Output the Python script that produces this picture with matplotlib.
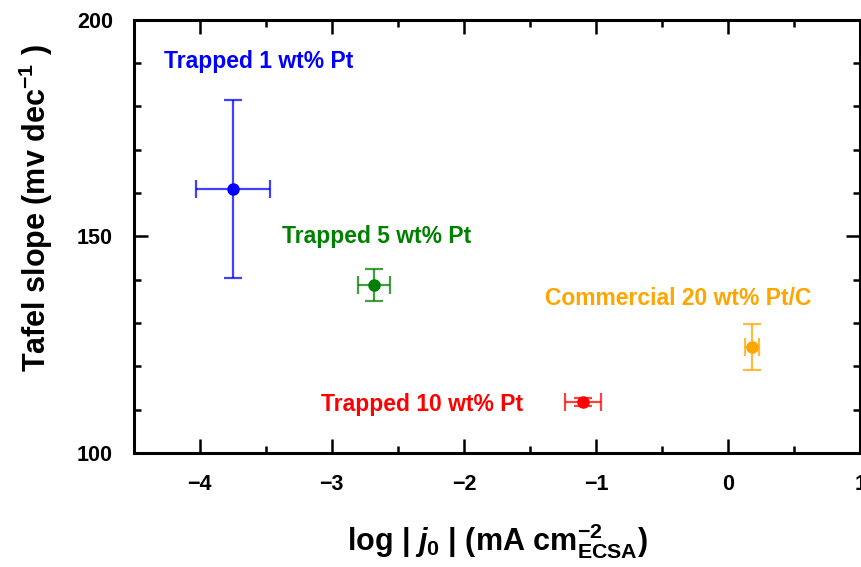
import numpy as np
import matplotlib
matplotlib.use("Agg")
from matplotlib import pyplot as plt
from matplotlib.ticker import MultipleLocator

plt.rcParams['font.family'] = 'Liberation Sans'
plt.rcParams['font.weight'] = 'bold'
plt.rcParams['mathtext.fontset'] = 'custom'
plt.rcParams['mathtext.rm'] = 'Liberation Sans:bold'
plt.rcParams['mathtext.it'] = 'Liberation Sans:bold:italic'
plt.rcParams['mathtext.bf'] = 'Liberation Sans:bold'

# data
names = ["Trapped 1 wt% Pt", "Trapped 5 wt% Pt", "Trapped 10 wt% Pt", "Commercial 20 wt% Pt/C"]
colors = ["#0000ff", "#008000", "#ff0000", "#ffa500"]
log_j0 = [-3.75, -2.68, -1.10, 0.18]
log_j0_err = [0.28, 0.12, 0.135, 0.05]
tafel = [161.0, 138.8, 111.8, 124.5]
tafel_err = [20.5, 3.7, 1.0, 5.3]
label_x = [-4.27, -3.38, -3.08, -1.39]
label_y = [190.3, 149.9, 111.3, 135.6]

fig = plt.figure(figsize=(8.62, 5.67), dpi=100)
ax = fig.add_axes([0.155, 0.201, 0.843, 0.764])

for i in range(len(names)):
    ax.errorbar(log_j0[i], tafel[i], xerr=log_j0_err[i], yerr=tafel_err[i],
                fmt='none', ecolor=colors[i], elinewidth=1.6, capsize=6.5,
                capthick=1.6, alpha=0.75)
    ax.plot(log_j0[i], tafel[i], 'o', color=colors[i], ms=8)
    ax.text(label_x[i], label_y[i], names[i], color=colors[i],
            fontsize=16.5, fontweight='bold', va='center', ha='left')

ax.set_xlim(-4.5, 1)
ax.set_ylim(100, 200)
ax.set_xticks([-4, -3, -2, -1, 0, 1])
ax.set_xticklabels(['\u22124', '\u22123', '\u22122', '\u22121', '0', '1'])
ax.xaxis.set_minor_locator(MultipleLocator(0.5))
ax.yaxis.set_major_locator(MultipleLocator(50))
ax.yaxis.set_minor_locator(MultipleLocator(10))
ax.tick_params(which='both', direction='in', top=True, right=True, width=1.8,
               labelsize=15.5, pad=15)
ax.tick_params(which='major', length=10)
ax.tick_params(which='minor', length=5)
for s in ax.spines.values():
    s.set_linewidth(2.2)

ax.set_ylabel(r'Tafel slope (mv dec$^{\mathbf{-1}}$ )', fontsize=22, fontweight='bold')
ax.yaxis.set_label_coords(-0.108, 0.565)
ax.set_xlabel(r'log | $j_0$ | (mA cm$^{-2}_{\mathrm{ECSA}}$)', fontsize=22, fontweight='bold', labelpad=19)

fig.savefig("out.png", dpi=100)
